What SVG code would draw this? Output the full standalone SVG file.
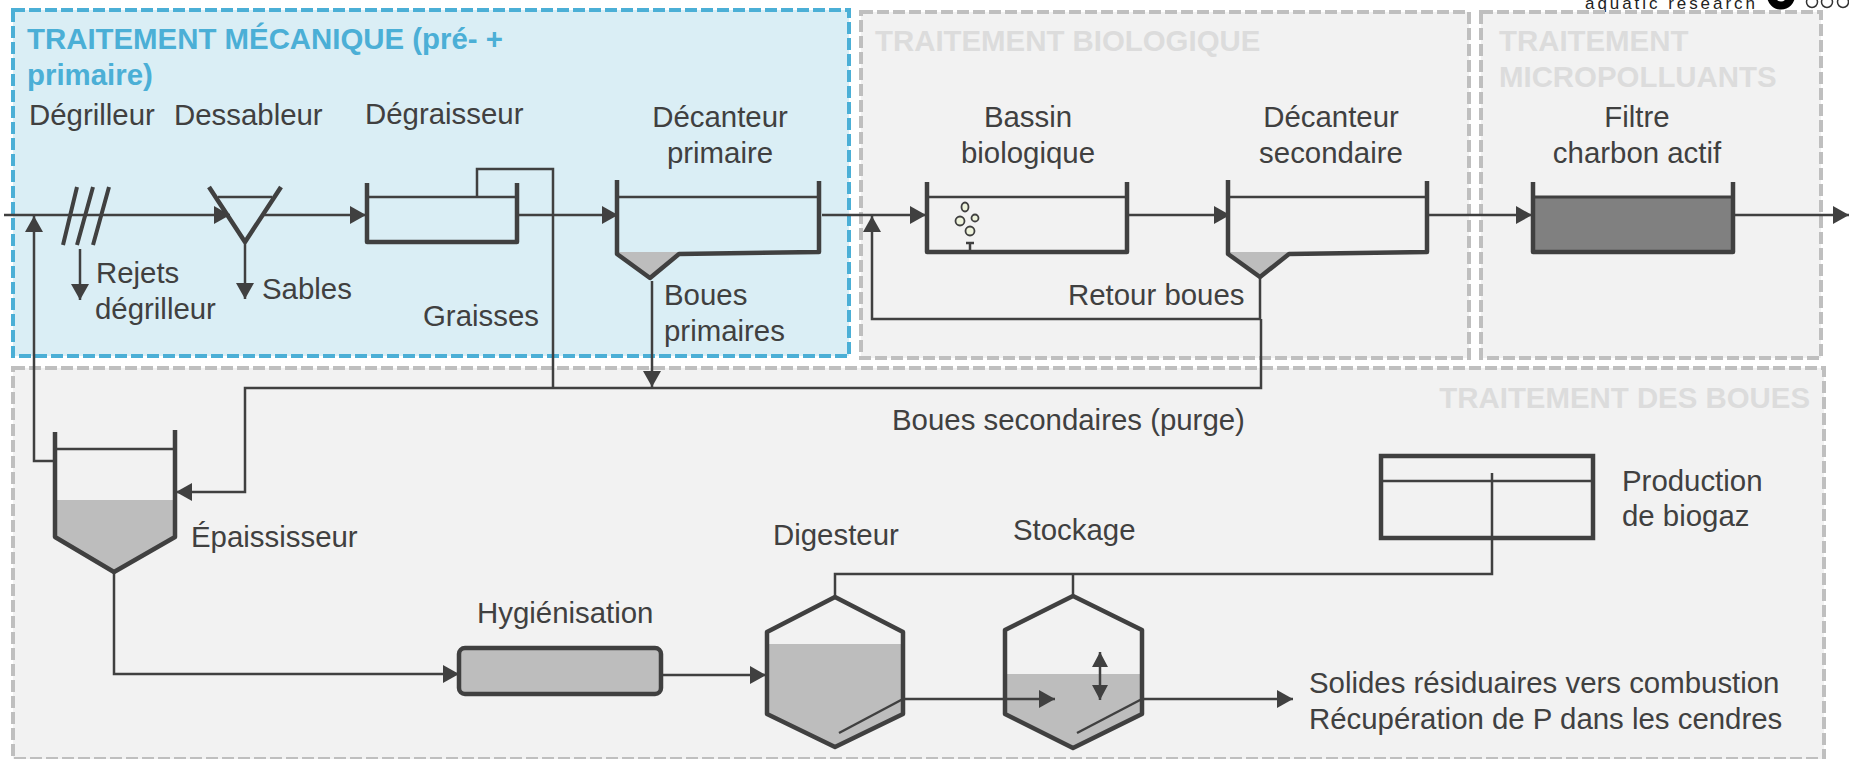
<svg xmlns="http://www.w3.org/2000/svg" width="1849" height="759" viewBox="0 0 1849 759">
<style>
text{font-family:"Liberation Sans",Arial,sans-serif;font-size:29.4px;fill:#404040}
.c{text-anchor:middle}
.t{font-weight:700;fill:#dcdcdc}
.tb{font-weight:700;fill:#4bafd6}
.panel{fill:#f2f2f2;stroke:#bfbfbf;stroke-width:4;stroke-dasharray:12 4}
.v{fill:none;stroke:#404040;stroke-width:4.5;stroke-linejoin:round}
.lv{fill:none;stroke:#404040;stroke-width:2.5}
.fg{fill:#bdbdbd}
.l{fill:none;stroke:#404040;stroke-width:2.5;stroke-linejoin:miter}
.a{marker-end:url(#ah)}
.bub{fill:#eef3dc;stroke:#404040;stroke-width:1.8}
</style>
<defs>
<marker id="ah" markerUnits="userSpaceOnUse" markerWidth="17" markerHeight="18" refX="16" refY="9" orient="auto"><path d="M0 0L16 9L0 18Z" fill="#404040"/></marker>
<marker id="ahs" markerUnits="userSpaceOnUse" markerWidth="16" markerHeight="17" refX="15" refY="8" orient="auto-start-reverse"><path d="M0 0L15 8L0 16Z" fill="#404040"/></marker>
</defs>
<g id="logo">
<text x="1585" y="9" style="font-size:17px;letter-spacing:2.95px;fill:#222">aquatic research</text>
<circle cx="1781" cy="-4.5" r="10" fill="none" stroke="#000" stroke-width="8"/>
<circle cx="1812" cy="2" r="5.5" fill="none" stroke="#333" stroke-width="1.5"/>
<circle cx="1827" cy="2" r="5.5" fill="none" stroke="#333" stroke-width="1.5"/>
<circle cx="1843" cy="2" r="5.5" fill="none" stroke="#333" stroke-width="1.5"/>
</g>
<g id="panels">
<rect id="panel-bio" class="panel" x="861" y="12" width="608" height="346"/>
<rect id="panel-micro" class="panel" x="1481" y="12" width="340" height="346"/>
<rect id="panel-boues" class="panel" x="13" y="368" width="1811" height="391"/>
<rect id="panel-meca" x="13" y="10" width="836" height="346" fill="#daeef5" stroke="#4bafd6" stroke-width="4" stroke-dasharray="12 4"/>
<text class="tb" x="27" y="49">TRAITEMENT MÉCANIQUE (pré- +</text>
<text class="tb" x="27" y="85">primaire)</text>
<text class="t" x="875" y="51">TRAITEMENT BIOLOGIQUE</text>
<text class="t" x="1499" y="51">TRAITEMENT</text>
<text class="t" x="1499" y="87">MICROPOLLUANTS</text>
<text class="t" x="1810" y="408" text-anchor="end">TRAITEMENT DES BOUES</text>
</g>
<g id="degrilleur">
<path class="v" d="M77 187L63 245M93 187L77 245M109 187L93 245" style="stroke-width:4"/>
<text x="29" y="125">Dégrilleur</text>
<text x="96" y="283">Rejets</text>
<text x="95" y="319">dégrilleur</text>
</g>
<g id="dessableur">
<path class="v" d="M209 187L245 242L281 187"/>
<path class="lv" d="M218 197H272"/>
<text x="174" y="125">Dessableur</text>
<text x="262" y="299">Sables</text>
</g>
<g id="degraisseur">
<path class="v" d="M367 183V242H517V183"/>
<path class="lv" d="M367 197H517"/>
<text x="365" y="124">Dégraisseur</text>
<text x="423" y="326">Graisses</text>
</g>
<g id="decanteur-primaire">
<path class="fg" d="M617 252H679L650 278Z"/>
<path class="v" d="M617 180V254L650 278L679 254L819 252V181"/>
<path class="lv" d="M617 197H819"/>
<text class="c" x="720" y="127">Décanteur</text>
<text class="c" x="720" y="163">primaire</text>
<text x="664" y="305">Boues</text>
<text x="664" y="341">primaires</text>
</g>
<g id="bassin-biologique">
<path class="v" d="M927 182V252H1127V182"/>
<path class="lv" d="M927 197H1127"/>
<ellipse class="bub" cx="965" cy="207" rx="3.5" ry="4.5"/>
<circle class="bub" cx="960" cy="221" r="4.5"/>
<circle class="bub" cx="975" cy="218" r="3.5"/>
<circle class="bub" cx="970" cy="231" r="4.5"/>
<path class="lv" d="M966 243H974M970 243V250"/>
<text class="c" x="1028" y="127">Bassin</text>
<text class="c" x="1028" y="163">biologique</text>
<text x="1068" y="305">Retour boues</text>
</g>
<g id="decanteur-secondaire">
<path class="fg" d="M1228 252H1289L1260 277Z"/>
<path class="v" d="M1228 180V254L1260 277L1289 254L1427 252V181"/>
<path class="lv" d="M1228 197H1427"/>
<text class="c" x="1331" y="127">Décanteur</text>
<text class="c" x="1331" y="163">secondaire</text>
</g>
<g id="filtre">
<rect x="1533" y="197" width="200" height="55" fill="#808080"/>
<path class="v" d="M1533 182V252H1733V182"/>
<path class="v" d="M1533 197H1733" style="stroke-width:3"/>
<text class="c" x="1637" y="127">Filtre</text>
<text class="c" x="1637" y="163">charbon actif</text>
</g>
<g id="epaississeur">
<path class="fg" d="M55 500H175V537L114 572L55 537Z"/>
<path class="v" d="M55 432V537L114 572L175 537V430"/>
<path class="lv" d="M55 449H175"/>
<text x="191" y="547">Épaississeur</text>
</g>
<g id="hygienisation">
<rect x="459" y="648" width="202" height="46" rx="6" fill="#bdbdbd" stroke="#404040" stroke-width="4.5"/>
<text x="477" y="623">Hygiénisation</text>
</g>
<g id="digesteur">
<path class="fg" d="M767 644H903V714L835 747L767 714Z"/>
<path class="v" d="M835 597L903 632V714L835 747L767 714V632Z"/>
<path class="l" d="M839 733L903 699"/>
<text x="773" y="545">Digesteur</text>
</g>
<g id="stockage">
<path class="fg" d="M1005 674H1142V714L1073 748L1005 714Z"/>
<path class="v" d="M1073 596L1142 630V714L1073 748L1005 714V630Z"/>
<path class="l" d="M1077 733L1142 699"/>
<path class="l" d="M1100 652V700" marker-start="url(#ahs)" marker-end="url(#ahs)"/>
<text x="1013" y="540">Stockage</text>
</g>
<g id="biogaz">
<rect x="1381" y="456" width="212" height="82" fill="none" stroke="#404040" stroke-width="4.5"/>
<path class="lv" d="M1381 481H1593"/>
<text x="1622" y="491">Production</text>
<text x="1622" y="526">de biogaz</text>
</g>
<g id="labels">
<text x="892" y="430">Boues secondaires (purge)</text>
<text x="1309" y="693">Solides résiduaires vers combustion</text>
<text x="1309" y="729">Récupération de P dans les cendres</text>
</g>
<g id="connectors">
<path class="l a" d="M4 215H230"/>
<path class="l a" d="M263 215H366"/>
<path class="l a" d="M517 215H618"/>
<path class="l a" d="M822 215H926"/>
<path class="l a" d="M1129 215H1230"/>
<path class="l a" d="M1429 215H1532"/>
<path class="l a" d="M1735 215H1849"/>
<path class="l a" d="M54 461H34V216"/>
<path class="l a" d="M80 249V300"/>
<path class="l a" d="M245 242V299"/>
<path class="l" d="M477 197V169H553V388"/>
<path class="l a" d="M652 281V387"/>
<path class="l a" d="M1260 277V319H872V216"/>
<path class="l a" d="M1261 319V388H245V492H176"/>
<path class="l a" d="M114 572V674H459"/>
<path class="l a" d="M661 675H766"/>
<path class="l a" d="M903 699H1055"/>
<path class="l a" d="M1142 699H1293"/>
<path class="l" d="M835 597V574H1492V473"/>
<path class="l" d="M1073 574V596"/>
</g>
</svg>
